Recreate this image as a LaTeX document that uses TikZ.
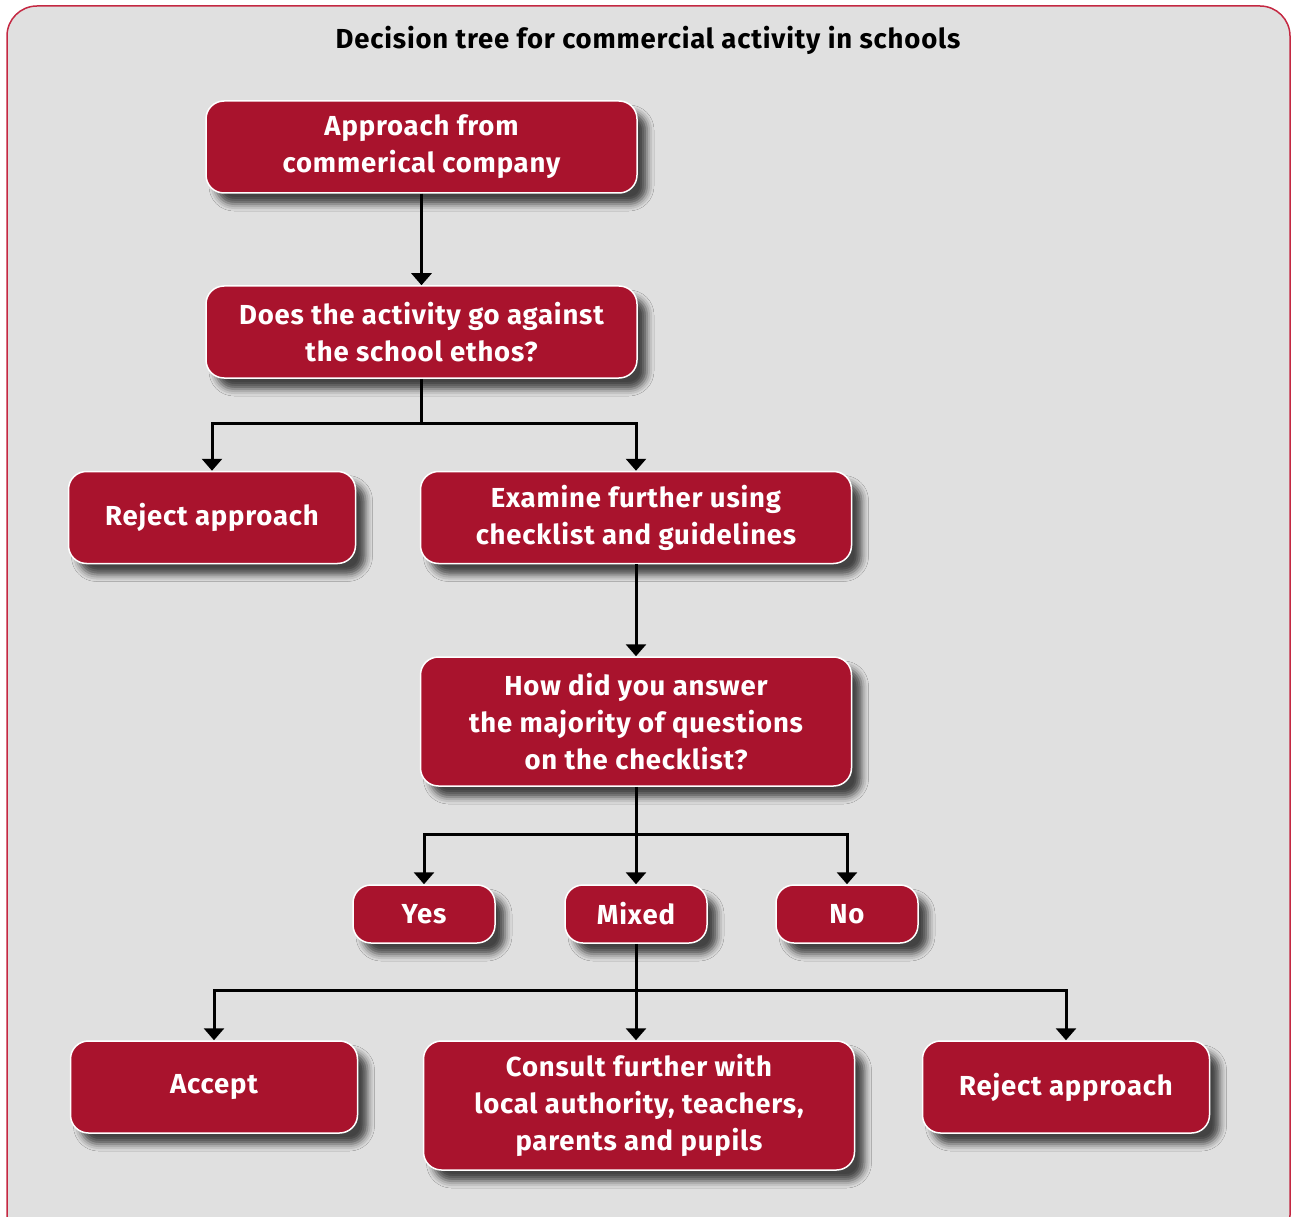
\documentclass[tikz,border=0pt]{standalone}
\usepackage{fontspec}
\setmainfont{Fira Sans}[LetterSpace=3]
\usetikzlibrary{positioning, arrows.meta, shadows.blur}
\definecolor{treered}{RGB}{169,19,45}
\definecolor{panelgray}{RGB}{224,224,224}
\definecolor{panelline}{RGB}{196,40,66}

\begin{document}
\begin{tikzpicture}[x=1pt, y=-1pt,
    box/.style={rectangle, rounded corners=18pt, draw=white, line width=1.5pt, fill=treered, text=white,
        font=\fontsize{27.5}{37}\selectfont\bfseries, align=center, inner sep=0pt,
        blur shadow={shadow xshift=10pt, shadow yshift=-11pt, shadow blur radius=7pt, shadow opacity=70}},
    widebox/.style={box, minimum width=431pt, minimum height=92pt},
    tallbox/.style={box, minimum width=431pt, minimum height=129pt},
    sidebox/.style={box, minimum width=287pt, minimum height=92pt},
    answer/.style={box, minimum width=142pt, minimum height=58pt},
    link/.style={line width=3pt, -{Triangle[width=20pt, length=12pt]}},
    plain/.style={line width=3pt}]

    % panel
    \clip (0,0) rectangle (1291,1217);
    \draw[panelline, line width=1.5pt, fill=panelgray, rounded corners=30pt] (7,6) rectangle (1290,1245);
    \node[font=\fontsize{27.5}{32}\selectfont\bfseries] (title) at (648,40) {Decision tree for commercial activity in schools};

    % boxes
    \node[widebox] (approach) at (421.5,147) {Approach from\\commerical company};
    \node[widebox] (ethos) at (421.5,332) {Does the activity go against\\the school ethos?};
    \node[sidebox] (reject1) at (212,517.5) {Reject approach};
    \node[widebox] (examine) at (636,517.5) {Examine further using\\checklist and guidelines};
    \node[tallbox] (checklist) at (636,721.5) {How did you answer\\the majority of questions\\on the checklist?};
    \node[answer] (yes) at (424,914) {Yes};
    \node[answer] (mixed) at (636,914) {Mixed};
    \node[answer] (no) at (847,914) {No};
    \node[sidebox] (accept) at (214,1087) {Accept};
    \node[tallbox] (consult) at (639,1105.5) {Consult further with\\local authority, teachers,\\parents and pupils};
    \node[sidebox] (reject2) at (1066,1087) {Reject approach};

    % connectors
    \coordinate (fork1) at (421.5,423);
    \coordinate (fork2) at (636,834);
    \coordinate (fork3) at (636,990);

    \draw[link] (approach) -- (ethos);
    \draw[link] (ethos) -- (fork1) -| (reject1);
    \draw[link] (fork1) -| (examine);
    \draw[link] (examine) -- (checklist);
    \draw[plain] (checklist) -- (fork2);
    \draw[link] (fork2) -| (yes);
    \draw[link] (fork2) -- (mixed);
    \draw[link] (fork2) -| (no);
    \draw[plain] (mixed) -- (fork3);
    \draw[link] (fork3) -| (accept);
    \draw[link] (fork3) -- (consult.north -| fork3);
    \draw[link] (fork3) -| (reject2);
\end{tikzpicture}
\end{document}
